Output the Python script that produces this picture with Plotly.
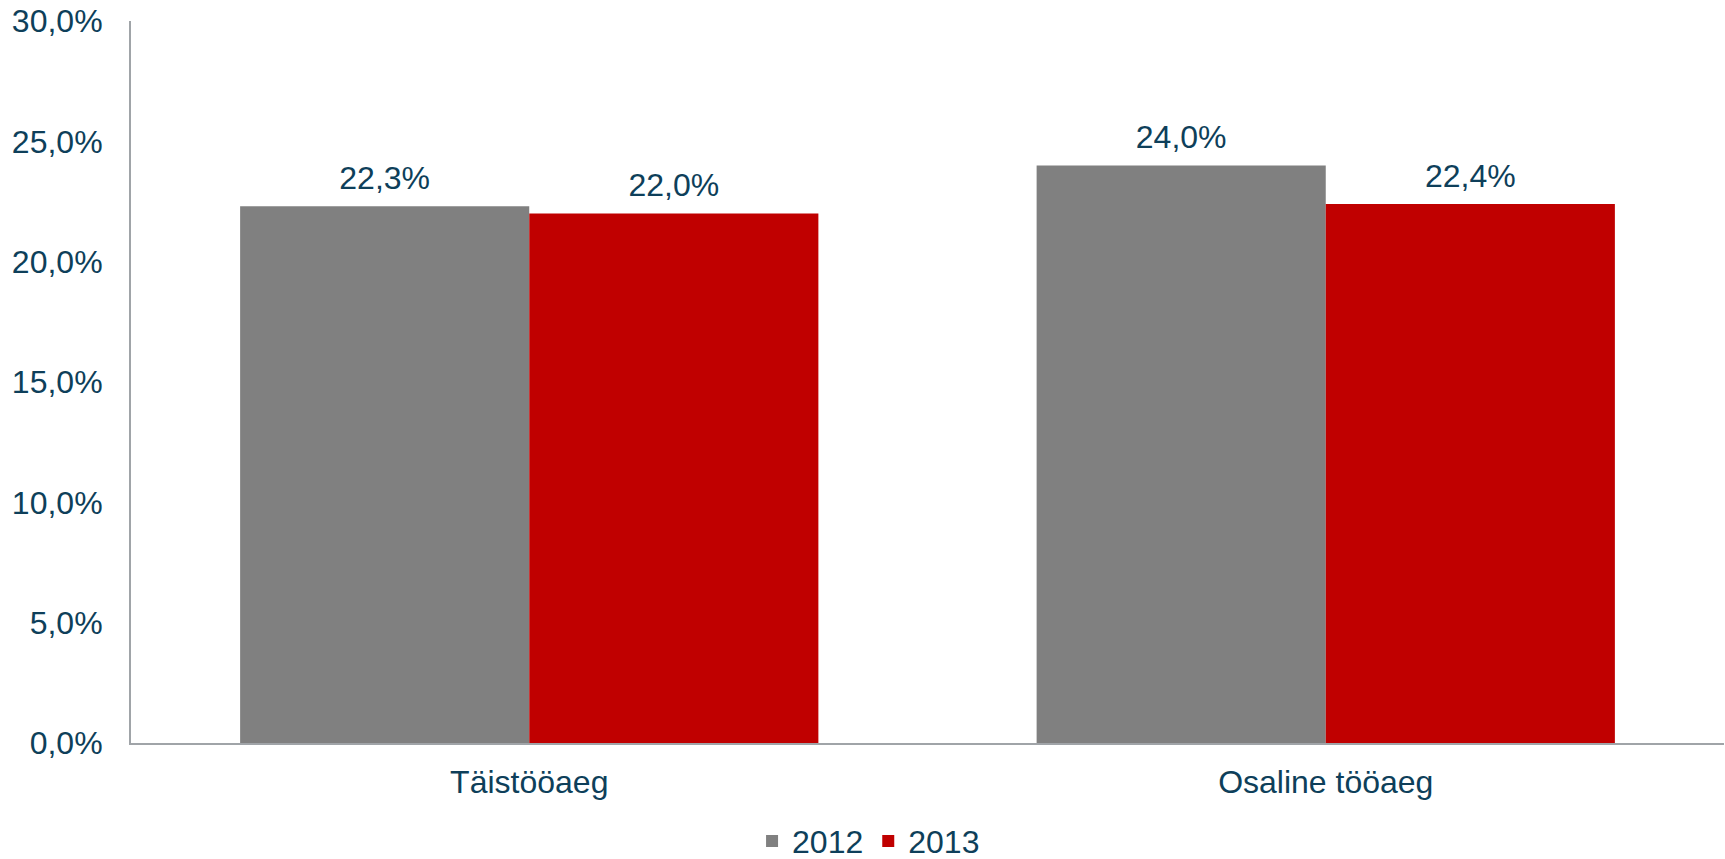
import plotly.graph_objects as go

categories = ["Täistööaeg", "Osaline tööaeg"]
years = ["2012", "2013"]
values_2012 = [22.3, 24.0]
values_2013 = [22.0, 22.4]
tick_vals = [0, 5, 10, 15, 20, 25, 30]
tick_text = ["0,0%", "5,0%", "10,0%", "15,0%", "20,0%", "25,0%", "30,0%"]

colors = {"2012": "#808080", "2013": "#C00000"}
text_color = "#0E3F5A"
font_family = "Liberation Sans, Arial, sans-serif"
FS = 32


def fmt(v):
    return f"{v:.1f}".replace(".", ",") + "%"


fig = go.Figure()
for year, vals in zip(years, [values_2012, values_2013]):
    fig.add_trace(go.Bar(
        x=categories, y=vals, name=year, offsetgroup=year,
        marker=dict(color=colors[year], line=dict(width=0)),
        cliponaxis=False,
    ))
for year, vals in zip(years, [values_2012, values_2013]):
    fig.add_trace(go.Scatter(
        x=categories, y=vals, offsetgroup=year, mode="markers+text",
        text=[fmt(v) for v in vals], textposition="top center",
        marker=dict(size=13, opacity=0, color="white"),
        textfont=dict(size=FS, color=text_color, family=font_family),
        showlegend=False, cliponaxis=False, hoverinfo="skip",
    ))

fig.update_layout(
    width=1725, height=859,
    margin=dict(l=131, r=1, t=21, b=116, autoexpand=False),
    barmode="group", bargap=0.274, bargroupgap=0,
    scattermode="group", scattergap=0.274,
    plot_bgcolor="white", paper_bgcolor="white",
    font=dict(family=font_family, size=FS, color=text_color),
    showlegend=True,
    legend=dict(orientation="h", x=0.463, xanchor="center", y=-0.136, yanchor="middle",
                font=dict(size=FS, color=text_color), itemsizing="constant",
                traceorder="normal"),
    yaxis=dict(range=[0, 30], tickvals=tick_vals, ticktext=tick_text,
               showgrid=False, zeroline=False, showline=True, linecolor="#A0A4A8",
               linewidth=2, ticks="", ticklabelstandoff=20, automargin=False,
               ticklabeloverflow="allow",
               tickfont=dict(size=FS, color=text_color)),
    xaxis=dict(showgrid=False, zeroline=False, showline=True, linecolor="#A0A4A8",
               linewidth=2, ticks="", ticklabelstandoff=10, automargin=False,
               ticklabeloverflow="allow",
               tickfont=dict(size=FS, color=text_color)),
)

fig.write_html("out.html", config={"displayModeBar": False},
               post_script="document.body.style.margin='0';document.body.style.overflow='hidden';")
